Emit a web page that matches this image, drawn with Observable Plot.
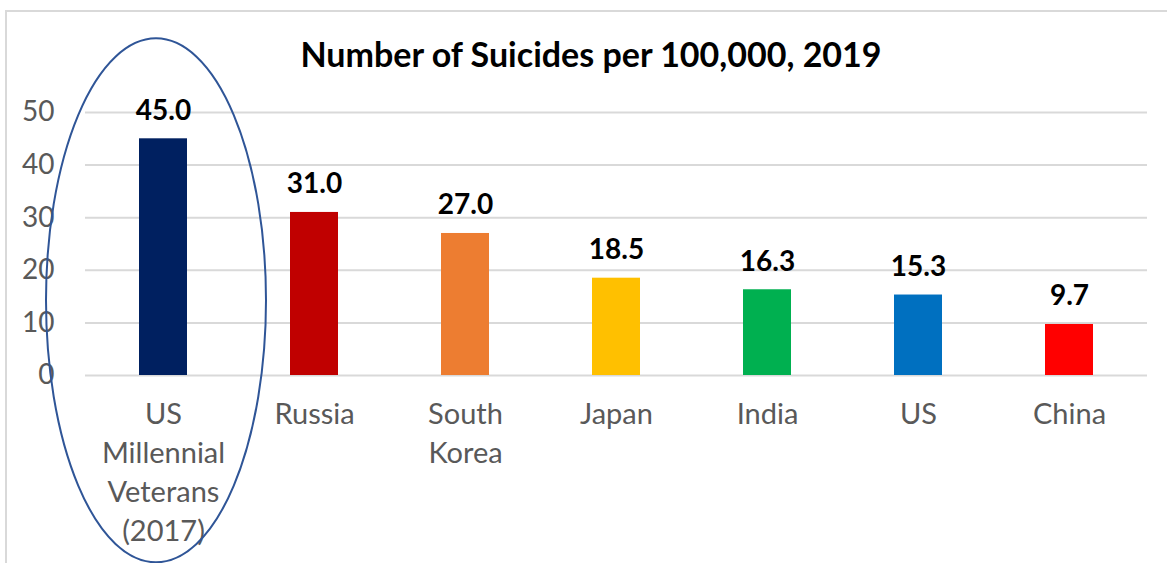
<!DOCTYPE html>
<html>
<head>
<meta charset="utf-8">
<script src="https://cdn.jsdelivr.net/npm/d3@7"></script>
<script src="https://cdn.jsdelivr.net/npm/@observablehq/plot@0.6"></script>
<style>
  html, body { margin: 0; padding: 0; background: #fff; }
  #wrap { position: relative; width: 1167px; height: 563px; overflow: hidden; font-family: Lato, "Noto Sans", sans-serif; }
  #frame { position: absolute; left: 5px; top: 10px; width: 1200px; height: 600px; border-left: 2px solid #d9d9d9; border-top: 2px solid #d9d9d9; }
  #title { position: absolute; top: 33px; left: 0; width: 1182px; text-align: center; font-weight: 700; font-size: 34px; color: #000; }
  #chart { position: absolute; left: 0; top: 0; }
</style>
</head>
<body>
<div id="wrap">
  <div id="frame"></div>
  <div id="chart"></div>
  <div id="title">Number of Suicides per 100,000, 2019</div>
</div>
<script>
const categories = ["US Millennial Veterans (2017)", "Russia", "South Korea", "Japan", "India", "US", "China"];
const tickLabels = ["US\nMillennial\nVeterans\n(2017)", "Russia", "South\nKorea", "Japan", "India", "US", "China"];
const values = [45.0, 31.0, 27.0, 18.5, 16.3, 15.3, 9.7];
const colors = ["#002060", "#C00000", "#ED7D31", "#FFC000", "#00B050", "#0070C0", "#FF0000"];
const yTicks = [0, 10, 20, 30, 40, 50];
const highlighted = "US Millennial Veterans (2017)";

const data = categories.map((c, i) => ({category: c, value: values[i], color: colors[i], label: tickLabels[i]}));
const labelOf = new Map(categories.map((c, i) => [c, tickLabels[i]]));

// ellipse annotation around the highlighted category (offsets in pixels)
const ellipseMark = (index, scales, values, dimensions) => {
  const x = scales.x;
  const bw = typeof x.bandwidth === "function" ? x.bandwidth() : (x.bandwidth ?? 0);
  const cx = x(highlighted) + bw / 2 - 7;
  const cy = scales.y(14.2);
  const el = document.createElementNS("http://www.w3.org/2000/svg", "ellipse");
  el.setAttribute("cx", cx);
  el.setAttribute("cy", cy);
  el.setAttribute("rx", 110);
  el.setAttribute("ry", 262);
  el.setAttribute("fill", "none");
  el.setAttribute("stroke", "#2F5597");
  el.setAttribute("stroke-width", 2);
  return el;
};

const chart = Plot.plot({
  width: 1167,
  height: 563,
  marginLeft: 85,
  marginRight: 20,
  marginTop: 112,
  marginBottom: 188,
  style: {fontFamily: "Lato, 'Noto Sans', sans-serif", background: "transparent", overflow: "visible"},
  x: {domain: categories, paddingInner: 0.684, paddingOuter: 0.342},
  y: {domain: [0, 50]},
  marks: [
    Plot.gridY(yTicks, {stroke: "#d9d9d9", strokeOpacity: 1, strokeWidth: 2}),
    Plot.axisY(yTicks, {tickSize: 0, tickPadding: 31, fontSize: 28, fill: "#595959", label: null}),
    Plot.axisX({tickSize: 0, tickPadding: 21, fontSize: 29, fill: "#595959", label: null, lineHeight: 1.34, tickFormat: d => labelOf.get(d)}),
    Plot.barY(data, {x: "category", y: "value", fill: "color"}),
    Plot.text(data, {x: "category", y: "value", text: d => d.value.toFixed(1), fontSize: 28, fontWeight: 700, fill: "#000", lineAnchor: "bottom", dy: -19}),
    ellipseMark
  ]
});
document.getElementById("chart").appendChild(chart);
</script>
</body>
</html>
